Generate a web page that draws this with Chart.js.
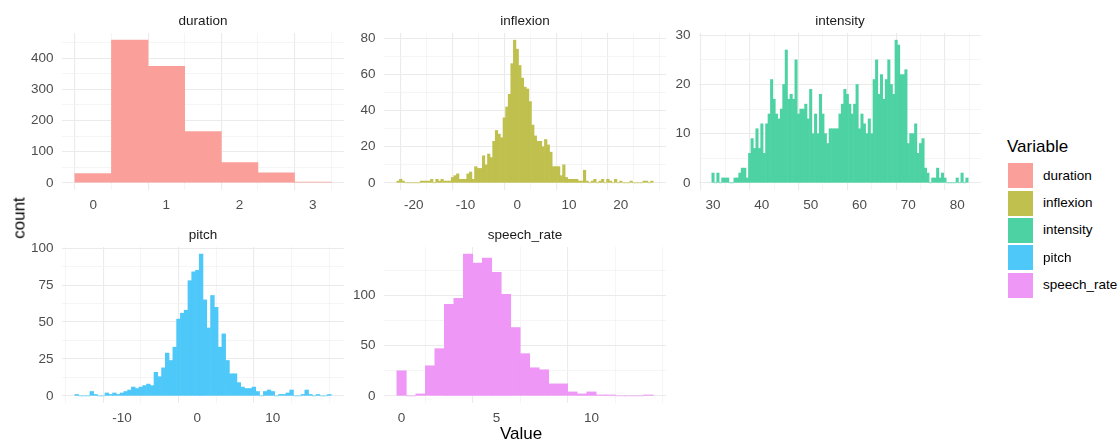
<!DOCTYPE html>
<html>
<head>
<meta charset="utf-8">
<script src="https://cdn.jsdelivr.net/npm/chart.js@4.4.0/dist/chart.umd.min.js"></script>
<style>
  body { margin: 0; background: #fff; font-family: "Liberation Sans", Arial, sans-serif; }
  #page { position: relative; width: 1120px; height: 441px; overflow: hidden; background: #fff; }
  canvas.panel { position: absolute; }
  .lbl { position: absolute; white-space: nowrap; line-height: 1; color: #000; z-index: 5; }
  #yTitle { left: 19px; top: 218px; font-size: 17px; transform: translate(-50%, -50%) rotate(-90deg); }
  #xTitle { left: 521px; top: 433px; font-size: 17px; transform: translate(-50%, -50%); }
  #legTitle { left: 1007px; top: 146px; font-size: 17px; transform: translateY(-50%); }
  .key { position: absolute; width: 25px; height: 25px; z-index: 5; }
  .keyText { position: absolute; font-size: 13.5px; line-height: 1; transform: translateY(-50%); color: #000; z-index: 5; white-space: nowrap; }
</style>
</head>
<body>
<div id="page">
  <div id="yTitle" class="lbl">count</div>
  <div id="xTitle" class="lbl">Value</div>
  <div id="legTitle" class="lbl">Variable</div>
</div>
<script>
// Histogram data: bin width 0.5, bins centred on multiples of 0.5
const binWidth = 0.5;
const variables = ['duration', 'inflexion', 'intensity', 'pitch', 'speech_rate'];
const colors = ['#F8766D', '#A3A500', '#00BF7D', '#00B0F6', '#E76BF3'];

const durationStart = 0;
const durationCounts = [30, 458, 374, 165, 65, 32, 3];

const inflexionStart = -23;
const inflexionCounts = [
  1, 2, 1, 0, 0, 0, 0, 0, 0, 1, 1, 1, 1, 2, 0, 2, 1, 2, 1, 1, 1,
  3, 4, 5, 2, 2, 2, 5, 6, 2, 9, 8, 8, 15, 10, 16, 14, 23, 29, 27, 25,
  36, 42, 49, 66, 79, 74, 65, 58, 53, 52, 45, 32, 26, 23, 23, 20, 24, 21, 17,
  9, 9, 9, 4, 10, 3, 2, 2, 2, 2, 1, 1, 7, 1, 0, 1, 2, 0, 1, 2,
  0, 2, 1, 0, 2, 0, 1, 0, 0, 0, 1, 0, 0, 0, 0, 1, 1, 0, 1
];

const intensityStart = 30;
const intensityCounts = [
  2, 0, 2, 0, 1, 1, 1, 0, 0, 1, 1, 2, 3, 3, 1, 6, 9, 7, 11, 7,
  12, 6, 12, 14, 21, 17, 14, 13, 15, 20, 27, 17, 18, 17, 25, 14, 15, 15, 16, 13,
  19, 10, 14, 10, 18, 14, 10, 8, 11, 11, 11, 11, 14, 16, 19, 18, 16, 14, 16, 20,
  11, 14, 12, 10, 13, 10, 21, 25, 18, 22, 17, 21, 25, 20, 18, 29, 28, 22, 22, 23,
  8, 10, 10, 12, 6, 8, 9, 3, 2, 0, 1, 1, 3, 1, 2, 1, 0, 0, 0, 0,
  1, 0, 2, 0, 1
];

const pitchStart = -16;
const pitchCounts = [
  1, 0, 0, 0, 3, 1, 0, 0, 2, 1, 2, 1, 2, 3, 4, 6, 5, 6, 7, 8,
  7, 16, 13, 19, 29, 24, 33, 52, 56, 58, 78, 84, 85, 96, 65, 46, 68, 60, 33, 42,
  24, 15, 15, 9, 6, 5, 5, 6, 3, 0, 3, 4, 3, 0, 1, 1, 2, 4, 0, 0,
  1, 4, 1, 0, 1, 0, 0, 1
];

const speechStart = 0;
const speechCounts = [
  25, 0, 2, 30, 47, 91, 97, 141, 132, 137, 123, 101, 68, 42, 28, 26, 12, 12, 4, 2,
  4, 1, 1, 0, 0, 0, 1
];

// Axis tick labels per panel
const durationXTicks = [0, 1, 2, 3];
const durationYTicks = [0, 100, 200, 300, 400];
const inflexionXTicks = [-20, -10, 0, 10, 20];
const inflexionYTicks = [0, 20, 40, 60, 80];
const intensityXTicks = [30, 40, 50, 60, 70, 80];
const intensityYTicks = [0, 10, 20, 30];
const pitchXTicks = [-10, 0, 10];
const pitchYTicks = [0, 25, 50, 75, 100];
const speechXTicks = [0, 5, 10];
const speechYTicks = [0, 50, 100];

// Layout of the facet grid
const colLeft = [62, 384, 699];
const rowTop = [33, 247];
const panelW = 282;
const panelH = [157, 156];
const AW = 44, TH = 21, XH = 24, RP = 12;

const FONT = '"Liberation Sans", Arial, sans-serif';

// colour at 70% opacity, flattened onto white so neighbouring bars show no seams
function fade(hex, a) {
  const n = parseInt(hex.slice(1), 16);
  const mix = c => Math.round(c * a + 255 * (1 - a));
  return `rgb(${mix((n >> 16) & 255)}, ${mix((n >> 8) & 255)}, ${mix(n & 255)})`;
}

// major ticks plus ggplot-style minor breaks halfway between them
function withMinors(majors, lo, hi) {
  const step = majors[1] - majors[0];
  const out = [];
  for (let v = majors[0] - step / 2; v <= majors[majors.length - 1] + step / 2 + 1e-9; v += step / 2) {
    if (v >= lo && v <= hi) out.push(Math.round(v * 1000) / 1000);
  }
  return out;
}

function isMajor(ctx, majors) {
  return !!(ctx && ctx.tick && majors.includes(ctx.tick.value));
}

function gridStyle(majors) {
  return {
    drawTicks: false,
    color: ctx => isMajor(ctx, majors) ? '#EBEBEB' : '#F3F3F3',
    lineWidth: ctx => isMajor(ctx, majors) ? 1.1 : 0.8
  };
}

function makePanel(idx, col, row, start, counts, xTicks, yTicks) {
  const canvas = document.createElement('canvas');
  canvas.className = 'panel';
  const w = AW + panelW + RP;
  const h = TH + panelH[row] + XH;
  canvas.width = w;
  canvas.height = h;
  canvas.style.left = (colLeft[col] - AW) + 'px';
  canvas.style.top = (rowTop[row] - TH) + 'px';
  document.getElementById('page').appendChild(canvas);

  const points = counts.map((c, i) => ({ x: start + i * binWidth, y: c }));
  const lo = start - binWidth / 2;
  const hi = start + (counts.length - 1) * binWidth + binWidth / 2;
  const xMin = lo - (hi - lo) * 0.05, xMax = hi + (hi - lo) * 0.05;
  const top = Math.max(...counts);
  const yMin = -top * 0.05, yMax = top * 1.05;
  const xAll = withMinors(xTicks, xMin, xMax);
  const yAll = withMinors(yTicks, yMin, yMax);

  new Chart(canvas.getContext('2d'), {
    type: 'bar',
    data: {
      datasets: [{
        label: variables[idx],
        data: points,
        backgroundColor: fade(colors[idx], 0.7),
        borderWidth: 0,
        inflateAmount: 0.3,
        barPercentage: 1,
        categoryPercentage: 1
      }]
    },
    options: {
      responsive: false,
      animation: false,
      devicePixelRatio: 1,
      layout: { padding: { left: 0, right: RP, top: 0, bottom: 0 } },
      plugins: {
        legend: { display: false },
        tooltip: { enabled: false },
        title: {
          display: true,
          text: variables[idx],
          fullSize: false,
          color: '#1A1A1A',
          font: { family: FONT, size: 13.5, weight: 'normal', lineHeight: 1.2 },
          padding: { top: 0.8, bottom: 4 }
        }
      },
      scales: {
        x: {
          type: 'linear',
          min: xMin,
          max: xMax,
          offset: false,
          afterBuildTicks: s => { s.ticks = xAll.map(v => ({ value: v })); },
          afterFit: s => { s.height = XH; },
          grid: gridStyle(xTicks),
          border: { display: false },
          ticks: {
            autoSkip: false,
            maxRotation: 0,
            padding: 7,
            color: '#4D4D4D',
            font: { family: FONT, size: 13.5 },
            callback: v => xTicks.includes(v) ? String(v) : ''
          }
        },
        y: {
          min: yMin,
          max: yMax,
          afterBuildTicks: s => { s.ticks = yAll.map(v => ({ value: v })); },
          afterFit: s => { s.width = AW; },
          grid: gridStyle(yTicks),
          border: { display: false },
          ticks: {
            autoSkip: false,
            padding: 8.5,
            color: '#4D4D4D',
            font: { family: FONT, size: 13.5 },
            callback: v => yTicks.includes(v) ? String(v) : ''
          }
        }
      }
    }
  });
}

makePanel(0, 0, 0, durationStart, durationCounts, durationXTicks, durationYTicks);
makePanel(1, 1, 0, inflexionStart, inflexionCounts, inflexionXTicks, inflexionYTicks);
makePanel(2, 2, 0, intensityStart, intensityCounts, intensityXTicks, intensityYTicks);
makePanel(3, 0, 1, pitchStart, pitchCounts, pitchXTicks, pitchYTicks);
makePanel(4, 1, 1, speechStart, speechCounts, speechXTicks, speechYTicks);

// Legend
const page = document.getElementById('page');
variables.forEach((name, i) => {
  const y = 163.3 + i * 27.3;
  const key = document.createElement('div');
  key.className = 'key';
  key.style.left = '1008px';
  key.style.top = y + 'px';
  key.style.background = fade(colors[i], 0.7);
  page.appendChild(key);
  const txt = document.createElement('div');
  txt.className = 'keyText';
  txt.style.left = '1043px';
  txt.style.top = (y + 12.5) + 'px';
  txt.textContent = name;
  page.appendChild(txt);
});
</script>
</body>
</html>
